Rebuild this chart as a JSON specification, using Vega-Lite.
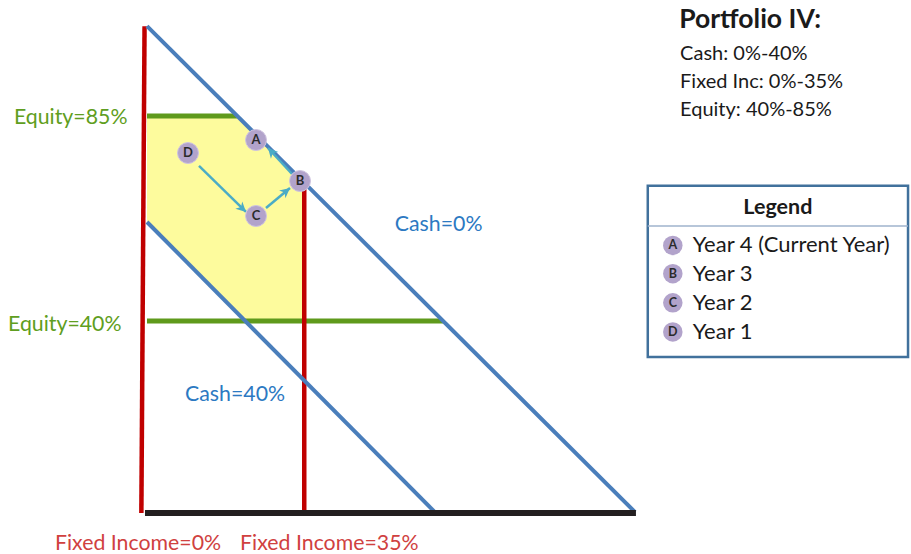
{
  "$schema": "https://vega.github.io/schema/vega-lite/v6.json",
  "width": 911,
  "height": 554,
  "autosize": {"type": "none"},
  "padding": 0,
  "background": "white",
  "config": {"view": {"stroke": null}},
  "datasets": {
    "region": [
      {"fi": 0.44, "hi": 85.05, "lo": 61.76},
      {"fi": 20.0, "hi": 85.05, "lo": 42.07},
      {"fi": 22.0, "hi": 83.4, "lo": 40},
      {"fi": 35, "hi": 70.2, "lo": 40}
    ],
    "lines": [
      {"kind": "equity", "fi": 0.44, "e": 85.05, "fi2": 20.2, "e2": 85.05},
      {"kind": "equity", "fi": 0.44, "e": 40, "fi2": 65.5, "e2": 40},
      {"kind": "fixed", "fi": -0.1, "e": 104.8, "fi2": -0.8, "e2": -2.2},
      {"kind": "fixed", "fi": 35, "e": 70, "fi2": 35, "e2": -2.2},
      {"kind": "cash", "fi": 0.44, "e": 104.8, "fi2": 107.7, "e2": -2.0},
      {"kind": "cash", "fi": 0.44, "e": 61.76, "fi2": 63.7, "e2": -2.0},
      {"kind": "base", "fi": 0, "e": -2.2, "fi2": 107.9, "e2": -2.2}
    ],
    "moves": [
      {"from": "D", "to": "C", "fi": 11.87, "e": 74.07, "fi2": 22.2, "e2": 63.96, "angle": 134},
      {"from": "C", "to": "B", "fi": 26.59, "e": 64.84, "fi2": 31.87, "e2": 69.23, "angle": 51},
      {"from": "B", "to": "A", "fi": 32.31, "e": 72.31, "fi2": 27.03, "e2": 78.02, "angle": 318}
    ],
    "points": [
      {"letter": "A", "fi": 24.4, "e": 79.78},
      {"letter": "B", "fi": 34.07, "e": 70.77},
      {"letter": "C", "fi": 24.4, "e": 63.08},
      {"letter": "D", "fi": 9.45, "e": 76.92}
    ],
    "labels": [
      {"kind": "equity", "text": "Equity=85%", "fi": -28.8, "e": 84.6},
      {"kind": "equity", "text": "Equity=40%", "fi": -30.1, "e": 39.1},
      {"kind": "cash", "text": "Cash=0%", "fi": 54.9, "e": 61.1},
      {"kind": "cash", "text": "Cash=40%", "fi": 8.8, "e": 23.7},
      {"kind": "fixed", "text": "Fixed Income=0%", "fi": -19.8, "e": -9.0},
      {"kind": "fixed", "text": "Fixed Income=35%", "fi": 20.9, "e": -9.0}
    ],
    "info": [
      {"text": "Cash: 0%-40%", "fi": 117.6, "e": 98.7},
      {"text": "Fixed Inc: 0%-35%", "fi": 117.6, "e": 92.5},
      {"text": "Equity: 40%-85%", "fi": 117.6, "e": 86.4}
    ],
    "legendbox": [{"fi": 110.5, "fi2": 167.7, "e": 69.7, "e2": 32.1}],
    "legendsep": [{"fi": 110.5, "fi2": 167.7, "e": 60.9}],
    "legenditems": [
      {"letter": "A", "text": "Year 4 (Current Year)", "fi": 116.0, "e": 56.6},
      {"letter": "B", "text": "Year 3", "fi": 116.0, "e": 50.4},
      {"letter": "C", "text": "Year 2", "fi": 116.0, "e": 44.0},
      {"letter": "D", "text": "Year 1", "fi": 116.0, "e": 37.6}
    ]
  },
  "encoding": {
    "x": {"field": "fi", "type": "quantitative", "scale": {"domain": [-31.868, 168.352], "nice": false, "zero": false}, "axis": null},
    "y": {"field": "e", "type": "quantitative", "scale": {"domain": [-11.209, 110.549], "nice": false, "zero": false}, "axis": null}
  },
  "layer": [
    {
      "data": {"name": "region"},
      "mark": {"type": "area", "color": "#fdfb9d", "opacity": 1},
      "encoding": {
        "x": {"field": "fi", "type": "quantitative"},
        "y": {"field": "hi", "type": "quantitative"},
        "y2": {"field": "lo"}
      }
    },
    {
      "data": {"name": "lines"},
      "transform": [{"filter": "datum.kind == 'equity'"}],
      "mark": {"type": "rule", "color": "#5f9a1c", "strokeWidth": 5},
      "encoding": {"x2": {"field": "fi2"}, "y2": {"field": "e2"}}
    },
    {
      "data": {"name": "lines"},
      "transform": [{"filter": "datum.kind == 'fixed'"}],
      "mark": {"type": "rule", "color": "#c00000", "strokeWidth": 4.5},
      "encoding": {"x2": {"field": "fi2"}, "y2": {"field": "e2"}}
    },
    {
      "data": {"name": "lines"},
      "transform": [{"filter": "datum.kind == 'cash'"}],
      "mark": {"type": "rule", "color": "#4a7ebb", "strokeWidth": 4},
      "encoding": {"x2": {"field": "fi2"}, "y2": {"field": "e2"}}
    },
    {
      "data": {"name": "lines"},
      "transform": [{"filter": "datum.kind == 'base'"}],
      "mark": {"type": "rule", "color": "#231f20", "strokeWidth": 6},
      "encoding": {"x2": {"field": "fi2"}, "y2": {"field": "e2"}}
    },
    {
      "data": {"name": "moves"},
      "mark": {"type": "rule", "color": "#4bacc6", "strokeWidth": 2.5},
      "encoding": {"x2": {"field": "fi2"}, "y2": {"field": "e2"}}
    },
    {
      "data": {"name": "moves"},
      "mark": {"type": "point", "shape": "M0,0 L1,2 L0,1.4 L-1,2 Z", "filled": true, "color": "#4bacc6", "size": 100, "opacity": 1},
      "encoding": {
        "x": {"field": "fi2", "type": "quantitative"},
        "y": {"field": "e2", "type": "quantitative"},
        "angle": {"field": "angle", "type": "quantitative", "scale": null}
      }
    },
    {
      "data": {"name": "points"},
      "mark": {"type": "circle", "color": "#b2a3cb", "size": 440, "opacity": 1, "stroke": "#cfc4e0", "strokeWidth": 1}
    },
    {
      "data": {"name": "points"},
      "mark": {"type": "text", "font": "Lato", "fontWeight": "bold", "fontSize": 13, "color": "#2b2b2b", "align": "center", "baseline": "middle"},
      "encoding": {"text": {"field": "letter"}}
    },
    {
      "data": {"name": "labels"},
      "mark": {"type": "text", "font": "Lato", "fontSize": 21.3, "align": "left", "baseline": "middle"},
      "encoding": {
        "text": {"field": "text"},
        "color": {"field": "kind", "type": "nominal", "scale": {"domain": ["equity", "cash", "fixed"], "range": ["#5f9e21", "#2c79c2", "#d0413f"]}, "legend": null}
      }
    },
    {
      "data": {"values": [{"text": "Portfolio IV:", "fi": 117.4, "e": 106.2}]},
      "mark": {"type": "text", "font": "Lato", "fontWeight": "bold", "fontSize": 26.5, "color": "#1a1a1a", "align": "left", "baseline": "middle"},
      "encoding": {"text": {"field": "text"}}
    },
    {
      "data": {"name": "info"},
      "mark": {"type": "text", "font": "Lato", "fontSize": 20, "color": "#1a1a1a", "align": "left", "baseline": "middle"},
      "encoding": {"text": {"field": "text"}}
    },
    {
      "data": {"name": "legendbox"},
      "mark": {"type": "rect", "fill": "white", "stroke": "#41719c", "strokeWidth": 2.5},
      "encoding": {"x2": {"field": "fi2"}, "y2": {"field": "e2"}}
    },
    {
      "data": {"name": "legendsep"},
      "mark": {"type": "rule", "color": "#9fb3cc", "strokeWidth": 1.5},
      "encoding": {"x2": {"field": "fi2"}}
    },
    {
      "data": {"values": [{"text": "Legend", "fi": 139.1, "e": 64.8}]},
      "mark": {"type": "text", "font": "Lato", "fontWeight": "bold", "fontSize": 21.5, "color": "#1a1a1a", "align": "center", "baseline": "middle"},
      "encoding": {"text": {"field": "text"}}
    },
    {
      "data": {"name": "legenditems"},
      "mark": {"type": "circle", "color": "#b2a3cb", "size": 380, "opacity": 1}
    },
    {
      "data": {"name": "legenditems"},
      "mark": {"type": "text", "font": "Lato", "fontWeight": "bold", "fontSize": 12.5, "color": "#2b2b2b", "align": "center", "baseline": "middle"},
      "encoding": {"text": {"field": "letter"}}
    },
    {
      "data": {"name": "legenditems"},
      "mark": {"type": "text", "font": "Lato", "fontSize": 22, "color": "#1a1a1a", "align": "left", "baseline": "middle", "dx": 20},
      "encoding": {"text": {"field": "text"}}
    }
  ]
}
